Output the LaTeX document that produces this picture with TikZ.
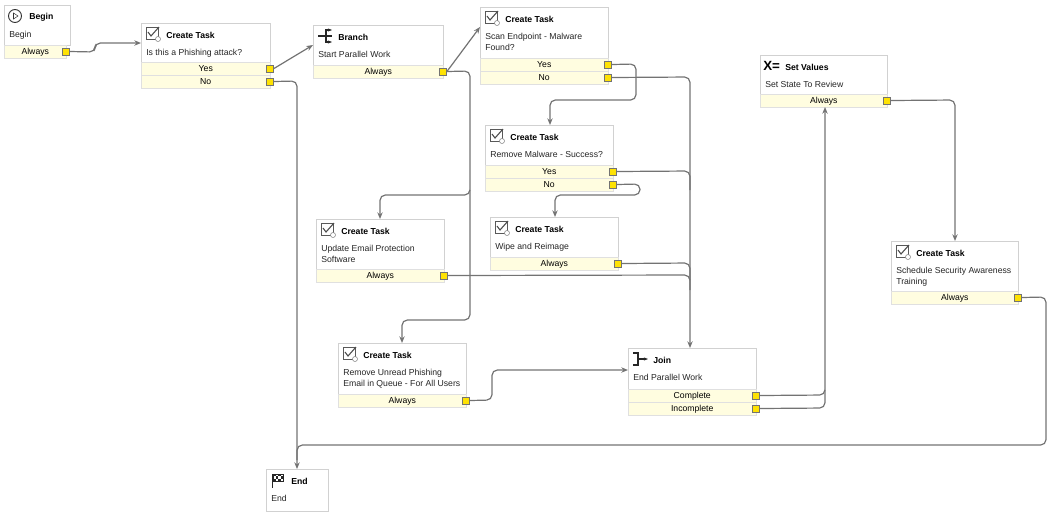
\documentclass[tikz,border=0pt]{standalone}
\usepackage{fontspec}
\setmainfont{Liberation Sans}
\usetikzlibrary{arrows.meta}
\begin{document}
\begin{tikzpicture}[x=0.75pt,y=-0.75pt,font=\fontsize{6.5}{7.5}\selectfont,
 box/.style={draw=black!18,fill=white,anchor=north west,inner sep=0pt},
 row/.style={draw=black!12,fill=yellow!12,anchor=north west,inner sep=0pt,minimum height=9.75pt},
 port/.style={draw=black!55,fill=yellow!85!orange,minimum size=5.5pt,inner sep=0pt},
 wire/.style={draw=black!55,line width=0.9pt,rounded corners=4pt},
 arr/.style={wire,-{Stealth[length=5pt,width=4pt]}},
 ttl/.style={anchor=west,font=\fontsize{6.5}{7.5}\selectfont\bfseries,inner sep=0pt},
 dsc/.style={anchor=north west,align=left,inner sep=0pt,text=black!85}]
\useasboundingbox (0,0) rectangle (1050,512);
% helpers
\newcommand\wbox[8]{% id x y w h title desc icon
 \node[box,minimum width={#4*0.75pt},minimum height={#5*0.75pt}] (#1) at (#2,#3) {};
 \node[ttl] (#1t) at ({#2+25},{#3+12}) {#6};
 \node[dsc] (#1d) at ({#2+5},{#3+26}) {#7};
 \begin{scope}[shift={(#2,#3)}]#8\end{scope}}
\newcommand\wrow[5]{% id x y w label
 \node[row,minimum width={#4*0.75pt}] (#1) at (#2,#3) {#5};
 \node[port] (#1p) at ({#2+#4},{#3+6.5}) {};}
\newcommand\chk{\draw[black!65,line width=0.6pt] (5,4) rectangle (17,16);
 \draw[black!70,line width=0.8pt] (7,9) -- (10,13) -- (18,4);
 \draw[black!50,fill=white] (17,16) circle (2.5);}
\newcommand\beg{\draw[black!80,line width=0.7pt] (11,11) circle (6.5);
 \draw[black!80] (9.5,8) -- (14,11) -- (9.5,14) -- cycle;}
\newcommand\brn{\draw[black!85,line width=0.8pt] (5,11) -- (19,11); \draw[black!85,line width=0.8pt] (13,4) -- (13,18);
 \draw[black!85,line width=0.8pt,-{Stealth[length=3pt]}] (13,5) -- (19,5);\draw[black!85,line width=0.8pt,-{Stealth[length=3pt]}] (13,17) -- (19,17);}
\newcommand\jn{\draw[black!85,line width=0.8pt] (5,5) -- (10,5) -- (10,17) -- (5,17); \draw[black!85,line width=0.8pt,-{Stealth[length=3pt]}] (10,11) -- (20,11);}
\newcommand\sv{\node[anchor=west,inner sep=0pt,font=\fontsize{10}{10}\selectfont\bfseries] at (3,11) {X=};}
\newcommand\flag{\draw[black!85] (6,5) -- (6,19);
 \foreach \i in {0,...,3}{\foreach \j in {0,1,2}{\pgfmathparse{mod(\i+\j,2)==0?"black!85":"white"}\edef\c{\pgfmathresult}
 \fill[\c] ({7+2.5*\i},{5+2.3*\j}) rectangle ++(2.5,2.3);}}
 \draw[black!85] (7,5) rectangle (17,11.9);}
% nodes
\wbox{begin}{4}{5}{66}{40}{Begin}{Begin}{\beg}
\wrow{beginA}{4}{45}{62}{Always}
\wbox{ctA}{141}{23}{129}{39}{Create Task}{Is this a Phishing attack?}{\chk}
\wrow{ctAY}{141}{62}{129}{Yes}\wrow{ctAN}{141}{75}{129}{No}
\wbox{br}{313}{25}{130}{40}{Branch}{Start Parallel Work}{\brn}
\wrow{brA}{313}{65}{130}{Always}
\wbox{sc}{480}{7}{128}{51}{Create Task}{Scan Endpoint - Malware\\[1pt]Found?}{\chk}
\wrow{scY}{480}{58}{128}{Yes}\wrow{scN}{480}{71}{128}{No}
\wbox{sv}{760}{55}{127}{39}{Set Values}{Set State To Review}{\sv}
\wrow{svA}{760}{94}{127}{Always}
\wbox{rm}{485}{125}{128}{40}{Create Task}{Remove Malware - Success?}{\chk}
\wrow{rmY}{485}{165}{128}{Yes}\wrow{rmN}{485}{178}{128}{No}
\wbox{ue}{316}{219}{128}{50}{Create Task}{Update Email Protection\\[1pt]Software}{\chk}
\wrow{ueA}{316}{269}{128}{Always}
\wbox{wr}{490}{217}{128}{40}{Create Task}{Wipe and Reimage}{\chk}
\wrow{wrA}{490}{257}{128}{Always}
\wbox{ss}{891}{241}{127}{50}{Create Task}{Schedule Security Awareness\\[1pt]Training}{\chk}
\wrow{ssA}{891}{291}{127}{Always}
\wbox{ru}{338}{343}{128}{51}{Create Task}{Remove Unread Phishing\\[1pt]Email in Queue - For All Users}{\chk}
\wrow{ruA}{338}{394}{128}{Always}
\wbox{jn}{628}{348}{128}{41}{Join}{End Parallel Work}{\jn}
\wrow{jnC}{628}{389}{128}{Complete}\wrow{jnI}{628}{402}{128}{Incomplete}
\wbox{end}{266}{469}{62}{42}{End}{End}{\flag}
% connectors
\draw[arr] (beginAp.east) -- (95,52) -- (95,43) -- (141,43);
\draw[arr] (ctAYp.east) -- (313,45);
\draw[arr] (ctANp.east) -- (297,81) -- (297,469);
\draw[arr] (brAp.east) -- (480,27);
\draw[arr] (brAp.east) -- (470,71) -- (470,195) -- (380,195) -- (380,219);
\draw[arr] (470,190) -- (470,320) -- (402,320) -- (402,343);
\draw[arr] (scYp.east) -- (636,64) -- (636,100) -- (550,100) -- (550,125);
\draw[arr] (scNp.east) -- (690,77) -- (690,348);
\draw[wire] (rmYp.east) -- (690,171) -- (690,190);
\draw[arr] (rmNp.east) -- (640,184) -- (640,195) -- (555,195) -- (555,217);
\draw[wire] (wrAp.east) -- (690,263) -- (690,280);
\draw[wire] (ueAp.east) -- (690,275) -- (690,290);
\draw[arr] (ruAp.east) -- (492,400) -- (492,370) -- (628,370);
\draw[arr] (jnCp.east) -- (825,395) -- (825,107);
\draw[wire] (jnIp.east) -- (825,408) -- (825,390);
\draw[arr] (svAp.east) -- (955,100) -- (955,241);
\draw[wire] (ssAp.east) -- (1046,297) -- (1046,445) -- (297,445) -- (297,460);
\end{tikzpicture}
\end{document}
